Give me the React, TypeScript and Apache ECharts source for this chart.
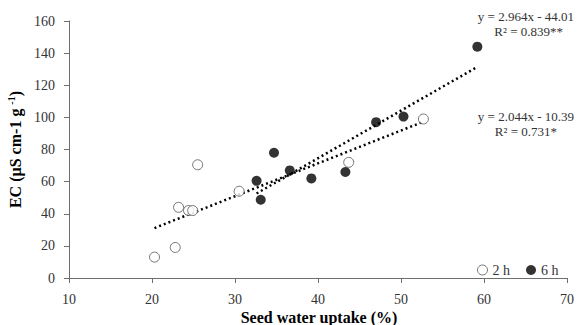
import React, { useEffect, useRef } from "react";
import * as echarts from "echarts";

const xTicks = [10, 20, 30, 40, 50, 60, 70];
const yTicks = [0, 20, 40, 60, 80, 100, 120, 140, 160];

const series2hX = [20.3, 22.8, 23.2, 24.4, 24.9, 25.5, 30.5, 43.7, 52.7];
const series2hY = [13, 19, 44, 42, 42, 70.5, 54, 72, 99];

const series6hX = [32.6, 33.1, 34.7, 36.6, 39.2, 43.3, 47.0, 50.3, 59.2];
const series6hY = [60.5, 48.7, 78, 67, 62, 66, 97, 100.5, 144];

// trend line coefficients [slope, intercept]
const fit2h = [2.044, -10.39];
const fit6h = [2.964, -44.01];

const labels = ["2 h", "6 h"];
const xTitle = "Seed water uptake (%)";
const eq6h = ["y = 2.964x - 44.01", "R² = 0.839**"];
const eq2h = ["y = 2.044x - 10.39", "R² = 0.731*"];

const FONT = '"Liberation Serif", "Times New Roman", serif';

function trend(xs: number[], fit: number[]) {
  const lo = Math.min(...xs);
  const hi = Math.max(...xs);
  return [
    [lo, fit[0] * lo + fit[1]],
    [hi, fit[0] * hi + fit[1]],
  ];
}

export default function App() {
  const ref = useRef<HTMLDivElement>(null);
  useEffect(() => {
    if (!ref.current) return;
    const chart = echarts.init(ref.current, undefined, { renderer: "svg" });
    const axisColor = "#6e6e6e";
    const txt = "#333";
    chart.setOption({
      animation: false,
      backgroundColor: "#ffffff",
      grid: { left: 69, right: 10, top: 21, bottom: 47, outerBoundsMode: "none", containLabel: false },
      xAxis: {
        type: "value",
        min: xTicks[0],
        max: xTicks[xTicks.length - 1],
        interval: 10,
        axisLine: { lineStyle: { color: axisColor, width: 1 } },
        axisTick: { inside: false, length: 5, lineStyle: { color: axisColor } },
        axisLabel: { fontFamily: FONT, fontSize: 14, color: txt, margin: 14 },
        splitLine: { show: false },
      },
      yAxis: {
        type: "value",
        min: yTicks[0],
        max: yTicks[yTicks.length - 1],
        interval: 20,
        name: "EC (µS cm-1 g {sup|-1})",
        nameLocation: "middle",
        nameRotate: 90,
        nameGap: 36,
        nameTextStyle: {
          fontFamily: FONT,
          fontWeight: "bold",
          fontSize: 16,
          color: "#000",
          rich: {
            sup: { fontFamily: FONT, fontWeight: "bold", fontSize: 10, color: "#000", verticalAlign: "top", padding: [0, 0, 8, 0] },
          },
        },
        axisLine: { show: true, lineStyle: { color: axisColor, width: 1 } },
        axisTick: { show: true, inside: false, length: 5, lineStyle: { color: axisColor } },
        axisLabel: { fontFamily: FONT, fontSize: 14, color: txt, margin: 14 },
        splitLine: { show: false },
      },
      legend: {
        data: [labels[0], labels[1]],
        left: 472,
        top: 258,
        itemWidth: 10,
        itemHeight: 10,
        itemGap: 16,
        itemStyle: { borderWidth: 1 },
        textStyle: { fontFamily: FONT, fontSize: 14, color: txt },
      },
      series: [
        {
          name: labels[0],
          type: "scatter",
          symbol: "circle",
          symbolSize: 10,
          itemStyle: { color: "#ffffff", borderColor: "#555", borderWidth: 1 },
          data: series2hX.map((x, i) => [x, series2hY[i]]),
          z: 3,
        },
        {
          name: labels[1],
          type: "scatter",
          symbol: "circle",
          symbolSize: 10,
          itemStyle: { color: "#000000" },
          data: series6hX.map((x, i) => [x, series6hY[i]]),
          z: 3,
        },
        {
          name: "trend2h",
          type: "line",
          data: trend(series2hX, fit2h),
          symbol: "none",
          lineStyle: { color: "#000", width: 2.5, type: [2, 3] },
          z: 2,
        },
        {
          name: "trend6h",
          type: "line",
          data: trend(series6hX, fit6h),
          symbol: "none",
          lineStyle: { color: "#000", width: 2.5, type: [2, 3] },
          z: 2,
        },
      ],
      graphic: [
        {
          type: "text",
          x: 319,
          y: 309,
          style: { text: xTitle, font: `bold 16px ${FONT}`, fill: "#000", align: "center", verticalAlign: "top" },
        },
        { type: "text", right: 3, top: 10, style: { text: eq6h[0], font: `13px ${FONT}`, fill: txt } },
        { type: "text", right: 14, top: 25, style: { text: eq6h[1], font: `13px ${FONT}`, fill: txt } },
        { type: "text", right: 3, top: 110, style: { text: eq2h[0], font: `13px ${FONT}`, fill: txt } },
        { type: "text", right: 20, top: 125, style: { text: eq2h[1], font: `13px ${FONT}`, fill: txt } },
      ],
    });
    return () => chart.dispose();
  }, []);
  return <div ref={ref} style={{ width: 577, height: 325, position: "absolute", left: 0, top: 0 }} />;
}
